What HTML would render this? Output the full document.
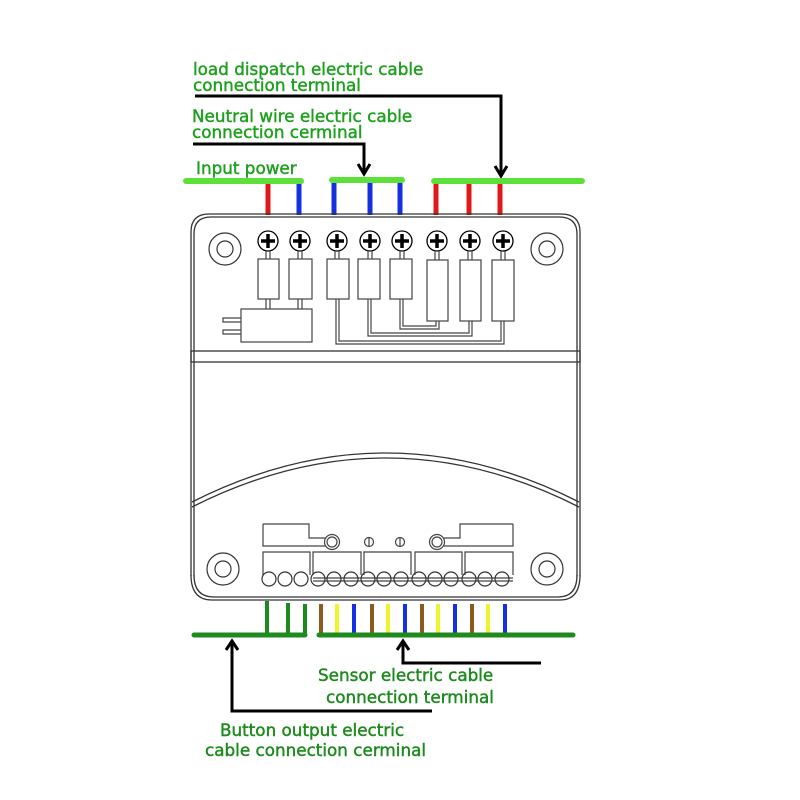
<!DOCTYPE html>
<html><head><meta charset="utf-8"><style>
html,body{margin:0;padding:0;background:#fff;}
svg{display:block;}
text{font-family:"DejaVu Sans","Liberation Sans",sans-serif;}
</style></head><body>
<svg width="800" height="800" viewBox="0 0 800 800" xmlns="http://www.w3.org/2000/svg">
<rect width="800" height="800" fill="#fff"/>
<!-- top labels -->
<g fill="#1ea01e" stroke="#1ea01e" stroke-width="0.45" font-size="16.8">
<text x="193" y="75">load dispatch electric cable</text>
<text x="193" y="91">connection terminal</text>
<text x="192" y="122">Neutral wire electric cable</text>
<text x="192" y="138">connection cerminal</text>
<text x="196" y="174">Input power</text>
</g>
<g stroke="#000" stroke-width="3" fill="none">
<polyline points="195,96 501,96 501,174"/>
<polyline points="193,144 364,144 364,172"/>
<polyline points="495,166 501,176 507,166"/>
<polyline points="358,164 364,174 370,164"/>
</g>
<!-- green bars -->
<g stroke="#5ee03a" stroke-width="6" stroke-linecap="round">
<line x1="186" y1="181" x2="301" y2="181"/>
<line x1="332" y1="180" x2="402" y2="180"/>
<line x1="434" y1="181" x2="582" y2="181"/>
</g>
<g stroke-width="5">
<line x1="268" y1="184" x2="268" y2="215" stroke="#e01818"/>
<line x1="299" y1="184" x2="299" y2="215" stroke="#1430e0"/>
<line x1="334" y1="183" x2="334" y2="215" stroke="#1430e0"/>
<line x1="370" y1="183" x2="370" y2="215" stroke="#1430e0"/>
<line x1="400" y1="183" x2="400" y2="215" stroke="#1430e0"/>
<line x1="436" y1="184" x2="436" y2="215" stroke="#e01818"/>
<line x1="469" y1="184" x2="469" y2="215" stroke="#e01818"/>
<line x1="500" y1="184" x2="500" y2="215" stroke="#e01818"/>
</g>
<!-- housing -->
<g fill="none" stroke="#333" stroke-width="1.3">
<path d="M191,576 L191,232 Q191,214 209,214 L561,214 Q580,214 580,232 L580,576"/>
<path d="M194,576 L194,234 Q194,217 211,217 L559,217 Q577,217 577,234 L577,576"/>
<rect x="191" y="351" width="389" height="11"/>
<path d="M192,502 Q386,404 579,502"/>
<path d="M192,507 Q386,409 579,507"/>
<path d="M191,575 Q191,600 212,600 L560,600 Q580,600 580,575"/>
<path d="M194,575 Q194,597 214,597 L558,597 Q577,597 577,575"/>
</g>
<!-- mounting holes -->
<g fill="none" stroke="#333" stroke-width="1.2">
<circle cx="225" cy="249" r="16"/><circle cx="225" cy="249" r="8"/>
<circle cx="547" cy="249" r="16"/><circle cx="547" cy="249" r="8"/>
<circle cx="223" cy="569" r="16"/><circle cx="223" cy="569" r="8"/>
<circle cx="547" cy="569" r="16"/><circle cx="547" cy="569" r="8"/>
</g>
<g stroke="#000" fill="#fff" stroke-width="1.3">
<circle cx="268" cy="241" r="10"/><circle cx="300" cy="241" r="10"/><circle cx="337" cy="241" r="10"/><circle cx="370" cy="241" r="10"/><circle cx="402" cy="241" r="10"/><circle cx="437" cy="241" r="10"/><circle cx="470" cy="241" r="10"/><circle cx="503" cy="241" r="10"/>
</g>
<g stroke="#000" stroke-width="3.5">
<path d="M261,241h14M268,234v14 M293,241h14M300,234v14 M330,241h14M337,234v14 M363,241h14M370,234v14 M395,241h14M402,234v14 M430,241h14M437,234v14 M463,241h14M470,234v14 M496,241h14M503,234v14"/>
</g>
<!-- resistors & traces -->
<g fill="none" stroke="#444" stroke-width="1.2">
<path d="M266,251v8M270,251v8 M298,251v8M302,251v8 M335,251v8M339,251v8 M368,251v8M372,251v8 M400,251v8M404,251v8 M435,251v9M439,251v9 M468,251v9M472,251v9 M501,251v9M505,251v9"/>
<rect x="258" y="259" width="21" height="40"/>
<rect x="289" y="259" width="23" height="40"/>
<rect x="327" y="259" width="22" height="40"/>
<rect x="358" y="259" width="22" height="40"/>
<rect x="390" y="259" width="22" height="40"/>
<rect x="427" y="260" width="21" height="61"/>
<rect x="460" y="260" width="21" height="61"/>
<rect x="492" y="260" width="22" height="61"/>
<path d="M266,299v10M270,299v10 M298,299v10M302,299v10"/>
<rect x="241" y="309" width="71" height="33"/>
<path d="M241,318h-18v4h18 M241,330h-18v4h18"/>
<path d="M336,299V344H504V321 M339,299V341H501V321"/>
<path d="M368,299V336H472V321 M371,299V333H469V321"/>
<path d="M400,299V329H439V321 M403,299V326H436V321"/>
</g>
<!-- bottom terminal block -->
<g fill="none" stroke="#444" stroke-width="1.2">
<path d="M263,524H309V538H326"/>
<path d="M263,524V546H326"/>
<path d="M513,524H460V538H444"/>
<path d="M513,524V546H444"/>
<circle cx="332" cy="542" r="7.5"/><circle cx="332" cy="542" r="5"/>
<circle cx="437" cy="542" r="7.5"/><circle cx="437" cy="542" r="5"/>
<circle cx="369" cy="542" r="4.5"/><path d="M369,537.5v9"/>
<circle cx="400" cy="542" r="4.5"/><path d="M400,537.5v9"/>
<path d="M263,575V552H310V575 M313,575V552H361V575 M364,575V552H411V575 M415,575V552H462V575 M465,575V552H513V575"/>
<path d="M313,578H513 M313,581H513"/>
</g>
<g fill="#fff" stroke="#333" stroke-width="1.2">
<circle cx="269" cy="579" r="7"/><circle cx="285" cy="579" r="7"/><circle cx="301" cy="579" r="7"/>
</g>
<g fill="none" stroke="#333" stroke-width="1.2">
<circle cx="318" cy="579" r="7"/><circle cx="334" cy="579" r="7"/><circle cx="351" cy="579" r="7"/>
<circle cx="368" cy="579" r="7"/><circle cx="384" cy="579" r="7"/><circle cx="401" cy="579" r="7"/>
<circle cx="419" cy="579" r="7"/><circle cx="435" cy="579" r="7"/><circle cx="451" cy="579" r="7"/>
<circle cx="469" cy="579" r="7"/><circle cx="485" cy="579" r="7"/><circle cx="502" cy="579" r="7"/>
</g>
<!-- bottom wires -->
<g stroke-width="4">
<line x1="267" y1="601" x2="267" y2="635" stroke="#1e8a1e"/>
<line x1="288" y1="603" x2="288" y2="635" stroke="#1e8a1e"/>
<line x1="305" y1="604" x2="305" y2="635" stroke="#1e8a1e"/>
<line x1="321" y1="604" x2="321" y2="634" stroke="#8a5a1e"/>
<line x1="337" y1="604" x2="337" y2="634" stroke="#eef52a"/>
<line x1="354" y1="604" x2="354" y2="634" stroke="#1430e0"/>
<line x1="372" y1="604" x2="372" y2="634" stroke="#8a5a1e"/>
<line x1="388" y1="604" x2="388" y2="634" stroke="#eef52a"/>
<line x1="405" y1="604" x2="405" y2="634" stroke="#1430e0"/>
<line x1="422" y1="604" x2="422" y2="634" stroke="#8a5a1e"/>
<line x1="438" y1="604" x2="438" y2="634" stroke="#eef52a"/>
<line x1="455" y1="604" x2="455" y2="634" stroke="#1430e0"/>
<line x1="472" y1="604" x2="472" y2="634" stroke="#8a5a1e"/>
<line x1="488" y1="604" x2="488" y2="634" stroke="#eef52a"/>
<line x1="505" y1="604" x2="505" y2="634" stroke="#1430e0"/>
</g>
<g stroke="#1e8a1e" stroke-width="5" stroke-linecap="round">
<line x1="194" y1="635" x2="305" y2="635"/>
<line x1="319" y1="635" x2="573" y2="635"/>
</g>
<!-- bottom arrows -->
<g stroke="#000" stroke-width="3" fill="none">
<polyline points="232,642 232,711 432,711"/>
<polyline points="226,650 232,641 238,650"/>
<polyline points="403,642 403,663 541,663"/>
<polyline points="397,650 403,641 409,650"/>
</g>
<g fill="#1e8a1e" stroke="#1e8a1e" stroke-width="0.45" font-size="16.8">
<text x="318" y="681">Sensor electric cable</text>
<text x="326" y="703">connection terminal</text>
<text x="220" y="736">Button output  electric</text>
<text x="205" y="756">cable connection cerminal</text>
</g>
</svg>
</body></html>
